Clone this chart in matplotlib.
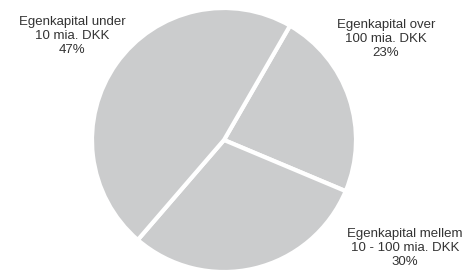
import matplotlib.pyplot as plt

labels = ["Egenkapital over\n100 mia. DKK", "Egenkapital mellem\n10 - 100 mia. DKK", "Egenkapital under\n10 mia. DKK"]
shares = [23, 30, 47]
# label centres in pixels (x, y from top)
label_pos = [(386, 39), (405, 248), (72, 36)]

W, H = 463, 270
fig = plt.figure(figsize=(W / 100, H / 100), dpi=100)
plt.rcParams["font.family"] = ["Liberation Sans", "DejaVu Sans"]

cx, cy, r = 224, 140, 132
ax = fig.add_axes([(cx - r) / W, (H - cy - r) / H, 2 * r / W, 2 * r / H])
ax.pie(shares, startangle=60, counterclock=False, colors=["#cbcccd"] * 3,
       wedgeprops=dict(edgecolor="white", linewidth=3))
ax.set_xlim(-1, 1)
ax.set_ylim(-1, 1)
ax.set_aspect("equal")

for lab, s, (x, y) in zip(labels, shares, label_pos):
    fig.text(x / W, 1 - y / H, f"{lab}\n{s}%", ha="center", va="center",
             fontsize=9.5, color="#333333", linespacing=1.22)

plt.savefig("out.png", dpi=100)
